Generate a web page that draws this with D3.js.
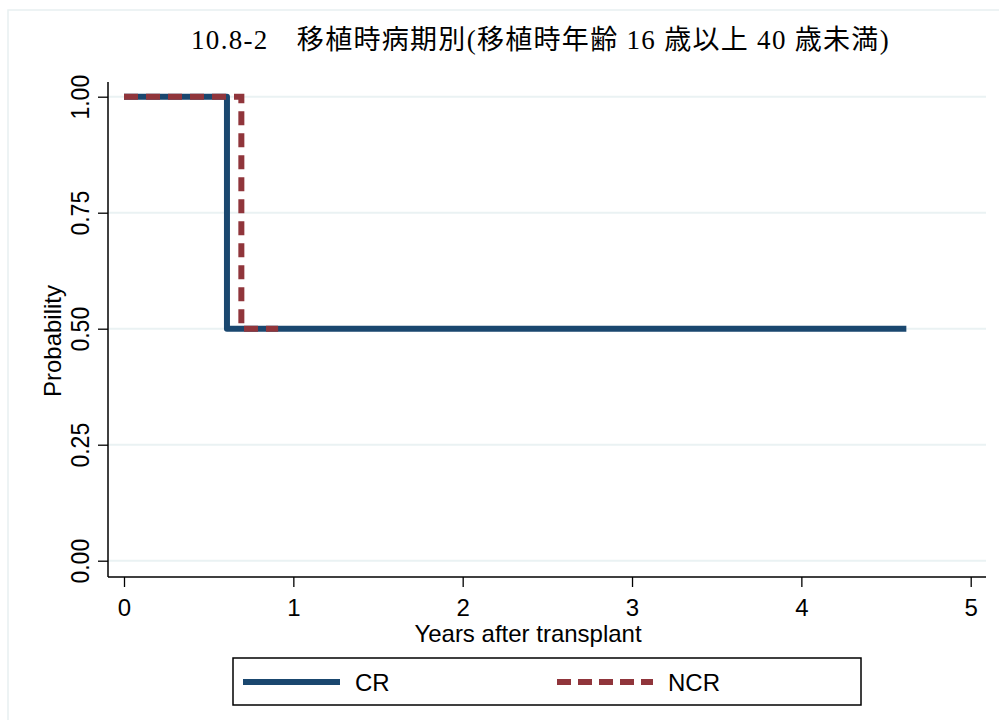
<!DOCTYPE html>
<html><head><meta charset="utf-8">
<script src="https://cdn.jsdelivr.net/npm/d3@7"></script>
<style>body{margin:0;background:#fff}svg{display:block}</style>
</head><body>
<svg id="c" width="999" height="720"></svg>
<script>
const title = "10.8-2\u3000移植時病期別(移植時年齢 16 歳以上 40 歳未満)";
const xTicks = [0, 1, 2, 3, 4, 5];
const yTicks = [0, 0.25, 0.5, 0.75, 1];
const yTickLabels = ["0.00", "0.25", "0.50", "0.75", "1.00"];
const seriesNames = ["CR", "NCR"];
const crTimes = [0, 0.608, 4.62];
const crSurv  = [1.0, 0.5, 0.5];
const ncrTimes = [0, 0.693, 0.91];
const ncrSurv  = [1.0, 0.5, 0.5];
const colors = ["#1a476f", "#90353b"];

(function () {
const svg = d3.select("#c");
const x = d3.scaleLinear().domain([0, 5]).range([124, 970.7]);
const y = d3.scaleLinear().domain([0, 1]).range([560.7, 96.7]);
const pl = 108, pr = 986, pt = 82, pb = 577;

// outer frame
svg.append("rect").attr("x", 8).attr("y", 10).attr("width", 1000).attr("height", 720)
  .attr("fill", "none").attr("stroke", "#e8f0f1").attr("stroke-width", 1.5);

// title
svg.append("text").attr("x", 540.5).attr("y", 49).attr("text-anchor", "middle")
  .attr("font-family", "'Liberation Serif','Noto Sans CJK JP',serif").attr("font-size", 27)
  .attr("letter-spacing", 1.3)
  .attr("fill", "#000").text(title);

// gridlines
svg.append("g").selectAll("line").data(yTicks).join("line")
  .attr("x1", pl).attr("x2", pr).attr("y1", d => y(d)).attr("y2", d => y(d))
  .attr("stroke", "#eaf2f3").attr("stroke-width", 2);

// axes
const fontAx = "'Liberation Sans', Arial, sans-serif";
const yAxis = d3.axisLeft(y).tickValues(yTicks).tickFormat((d, i) => yTickLabels[i]).tickSize(10).tickPadding(0);
const gy = svg.append("g").attr("transform", `translate(${pl},0)`).call(yAxis);
gy.select(".domain").remove();
gy.selectAll(".tick line").attr("stroke", "#000").attr("stroke-width", 1.3);
gy.selectAll(".tick text").attr("font-family", fontAx).attr("font-size", 23).attr("fill", "#000")
  .attr("text-anchor", "middle").attr("x", null).attr("dy", null)
  .attr("transform", "translate(-19,0) rotate(-90) scale(1,1.1)");
svg.append("line").attr("x1", pl).attr("x2", pl).attr("y1", pt).attr("y2", pb)
  .attr("stroke", "#000").attr("stroke-width", 1.5);

const xAxis = d3.axisBottom(x).tickValues(xTicks).tickFormat(d3.format("d")).tickSize(10);
const gx = svg.append("g").attr("transform", `translate(0,${pb})`).call(xAxis);
gx.select(".domain").remove();
gx.selectAll(".tick line").attr("stroke", "#000").attr("stroke-width", 1.3);
gx.selectAll(".tick text").attr("font-family", fontAx).attr("font-size", 24).attr("fill", "#000")
  .attr("y", 39).attr("dy", null);
svg.append("line").attr("x1", pl).attr("x2", pr).attr("y1", pb).attr("y2", pb)
  .attr("stroke", "#000").attr("stroke-width", 1.5);

// axis titles
svg.append("text").attr("transform", "translate(61,341) rotate(-90)").attr("text-anchor", "middle")
  .attr("font-family", fontAx).attr("font-size", 24).attr("fill", "#000").text("Probability");
svg.append("text").attr("x", 528).attr("y", 642).attr("text-anchor", "middle")
  .attr("font-family", fontAx).attr("font-size", 24).attr("fill", "#000").text("Years after transplant");

// step lines
const line = d3.line().x(d => x(d[0])).y(d => y(d[1])).curve(d3.curveStepAfter);
const crData = crTimes.map((t, i) => [t, crSurv[i]]);
const ncrData = ncrTimes.map((t, i) => [t, ncrSurv[i]]);
svg.append("path").datum(crData).attr("d", line).attr("fill", "none")
  .attr("stroke", colors[0]).attr("stroke-width", 6).attr("stroke-linejoin", "round");
svg.append("path").datum(ncrData).attr("d", line).attr("fill", "none")
  .attr("stroke", colors[1]).attr("stroke-width", 6).attr("stroke-dasharray", "14,8");

// legend
const lg = svg.append("g");
lg.append("rect").attr("x", 233).attr("y", 658).attr("width", 628).attr("height", 47)
  .attr("fill", "#fff").attr("stroke", "#000").attr("stroke-width", 1.5);
lg.append("line").attr("x1", 243).attr("x2", 340).attr("y1", 682).attr("y2", 682)
  .attr("stroke", colors[0]).attr("stroke-width", 6);
lg.append("line").attr("x1", 557).attr("x2", 653).attr("y1", 682).attr("y2", 682)
  .attr("stroke", colors[1]).attr("stroke-width", 6).attr("stroke-dasharray", "14,7");
lg.append("text").attr("x", 355).attr("y", 691).attr("font-family", fontAx).attr("font-size", 24)
  .attr("fill", "#000").text(seriesNames[0]);
lg.append("text").attr("x", 668).attr("y", 691).attr("font-family", fontAx).attr("font-size", 24)
  .attr("fill", "#000").text(seriesNames[1]);
})();
</script>
</body></html>
